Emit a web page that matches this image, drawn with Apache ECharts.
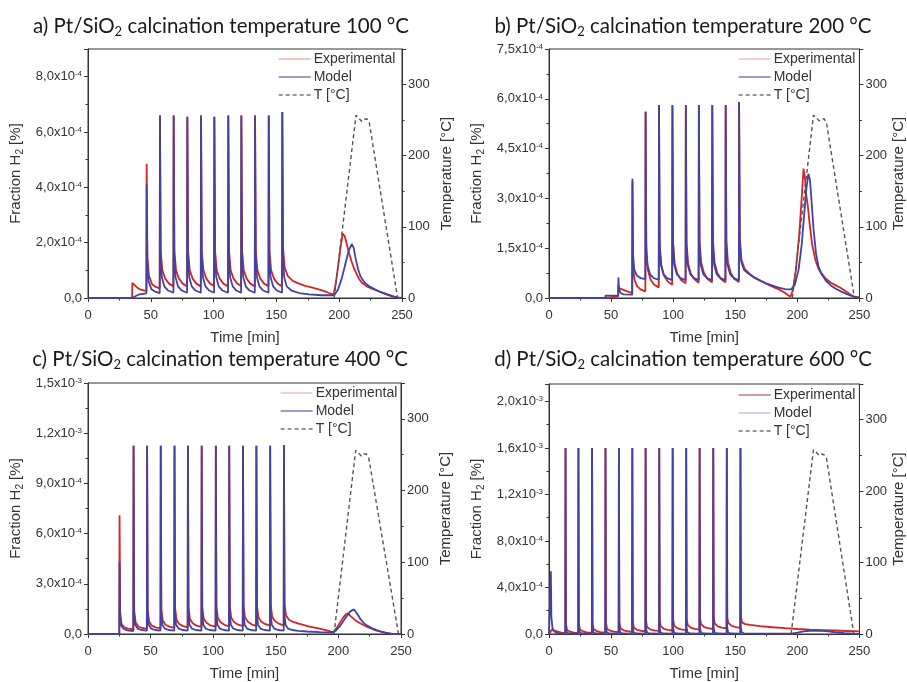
<!DOCTYPE html>
<html><head><meta charset="utf-8">
<script src="https://cdn.jsdelivr.net/npm/echarts@6/dist/echarts.min.js"></script>
<style>html,body{margin:0;padding:0;background:#fff}#c{width:907px;height:682px}</style>
</head><body><div id="c"></div>
<script>
// ---------- DATA (H2 fraction values in units of 1e-4 %, time in min, T in °C) ----------
const panelLabels = ['a', 'b', 'c', 'd'];
const calcTemps = ['100', '200', '400', '600'];
const fracMax = [9e-4, 7.5e-4, 1.5e-3, 2.15e-3];
const fracInterval = [2e-4, 1.5e-4, 3e-4, 4e-4];
const tempMax = 350;
const tempInterval = 100;
const timeMax = 250;
const timeInterval = 50;

const expA = [[0,0],[35.1,0],[35.3,0.55],[36.5,0.48],[39,0.38],[42,0.3],[46.5,0.25],
[46.7,4.85],[47.3,1.5],[48.5,0.8],[51,0.5],[54,0.4],[57.1,0.35],
[57.3,6.6],[57.9,1.7],[59.2,1.0],[61.5,0.7],[64.5,0.52],[68.0,0.42],
[68.2,6.6],[68.8,1.7],[70.1,1.0],[72.4,0.7],[75.4,0.52],[78.9,0.42],
[79.1,6.55],[79.7,1.7],[81.0,1.0],[83.3,0.7],[86.3,0.52],[89.8,0.42],
[90.0,6.6],[90.6,1.7],[91.9,1.0],[94.2,0.7],[97.2,0.52],[100.4,0.43],
[100.6,6.55],[101.2,1.7],[102.5,1.0],[104.8,0.7],[107.8,0.52],[111.5,0.42],
[111.7,6.6],[112.3,1.7],[113.6,1.0],[115.9,0.7],[118.9,0.52],[121.9,0.43],
[122.1,6.6],[122.7,1.7],[124.0,1.0],[126.3,0.7],[129.3,0.52],[132.8,0.42],
[133.0,6.6],[133.6,1.7],[134.9,1.0],[137.2,0.7],[140.2,0.52],[143.7,0.43],
[143.9,6.6],[144.5,1.7],[145.8,1.0],[148.1,0.7],[151.1,0.52],[154.5,0.43],
[154.7,6.72],[155.3,1.8],[156.6,1.1],[159,0.8],[163,0.62],[168,0.52],[173,0.44],[178,0.38],[183,0.32],[188,0.25],[192,0.18],[195.5,0.12],
[197,0.45],[199,1.1],[201,1.8],[202.8,2.33],[204.5,2.22],[206,1.95],[208,1.6],[210,1.3],[212,1.05],[214,0.85],[216,0.68],[218,0.55],[222,0.42],[226,0.34],[230,0.27],[234,0.2],[238,0.14],[242,0.08],[246,0.02],[250,0]];
const modelA = [[0,0],[35.1,0],[36,0.05],[40,0.12],[46.5,0.17],
[46.7,4.1],[47.2,1.3],[48.2,0.6],[50.5,0.32],[54,0.22],[57.1,0.18],
[57.3,6.6],[57.8,1.5],[58.8,0.75],[60.8,0.42],[63.8,0.27],[68.0,0.19],
[68.2,6.6],[68.7,1.5],[69.7,0.75],[71.7,0.42],[74.7,0.27],[78.9,0.19],
[79.1,6.55],[79.6,1.5],[80.6,0.75],[82.6,0.42],[85.6,0.27],[89.8,0.19],
[90.0,6.6],[90.5,1.5],[91.5,0.75],[93.5,0.42],[96.5,0.27],[100.4,0.19],
[100.6,6.55],[101.1,1.5],[102.1,0.75],[104.1,0.42],[107.1,0.27],[111.5,0.19],
[111.7,6.6],[112.2,1.5],[113.2,0.75],[115.2,0.42],[118.2,0.27],[121.9,0.19],
[122.1,6.6],[122.6,1.5],[123.6,0.75],[125.6,0.42],[128.6,0.27],[132.8,0.19],
[133.0,6.6],[133.5,1.5],[134.5,0.75],[136.5,0.42],[139.5,0.27],[143.7,0.19],
[143.9,6.6],[144.4,1.5],[145.4,0.75],[147.4,0.42],[150.4,0.27],[154.5,0.19],
[154.7,6.72],[155.2,1.5],[156.2,0.75],[158.2,0.42],[162,0.27],[168,0.18],[176,0.13],[186,0.1],[196,0.1],[199,0.3],[202,0.7],[205,1.25],[207.5,1.7],[209.9,1.95],[211.5,1.82],[213,1.45],[215,1.05],[217,0.78],[220,0.57],[224,0.42],[228,0.32],[233,0.21],[238,0.12],[243,0.05],[247,0.01],[250,0]];
const tempA = [[196,0],[213.4,257],[216,252],[218,248],[220,251],[222,252],[224,246],[246.5,0]];

const expB = [[0,0],[45.4,0],[45.6,0.05],[55.7,0.05],[55.9,0.4],[56.5,0.3],[59,0.26],[63,0.2],[67.0,0.15],
[67.2,3.5],[67.7,1.0],[68.8,0.55],[71,0.35],[74,0.25],[77.6,0.2],
[77.8,5.6],[78.4,1.4],[79.6,0.85],[81.8,0.55],[84.8,0.4],[88.4,0.32],
[88.6,5.8],[89.2,1.6],[90.4,1.0],[92.6,0.68],[95.6,0.5],[99.2,0.4],
[99.4,5.8],[100.0,1.65],[101.2,1.05],[103.4,0.72],[106.4,0.54],[110.0,0.44],
[110.2,5.8],[110.8,1.65],[112.0,1.05],[114.2,0.74],[117.2,0.56],[120.5,0.46],
[120.7,5.8],[121.3,1.7],[122.5,1.08],[124.7,0.76],[127.7,0.57],[131.3,0.47],
[131.5,5.8],[132.1,1.7],[133.3,1.08],[135.5,0.76],[138.5,0.57],[142.1,0.47],
[142.3,5.8],[142.9,1.7],[144.1,1.08],[146.3,0.76],[149.3,0.57],[152.9,0.48],
[153.1,5.9],[153.7,1.8],[155,1.15],[157.5,0.88],[161,0.75],[165,0.63],[170,0.53],[175,0.43],[180,0.34],[185,0.26],[189,0.18],[192,0.1],[194.5,0.04],
[196.5,0.25],[199,0.9],[201.5,1.9],[203.5,3.0],[205,3.9],[206.2,3.6],[207.2,3.1],[208.5,2.75],[210,2.2],[212,1.6],[214.5,1.15],[217,0.88],[219.5,0.74],[223,0.58],[227,0.46],[231,0.38],[235,0.3],[239,0.2],[243,0.1],[246,0.04],[250,0.02]];
const modelB = [[0,0],[45.4,0],[45.6,0.07],[55.7,0.07],[55.9,0.62],[56.3,0.3],[57.5,0.15],[60,0.11],[67.0,0.1],
[67.2,3.59],[67.7,1.3],[68.7,0.85],[70.7,0.68],[73.7,0.6],[77.6,0.57],
[77.8,5.62],[78.3,1.6],[79.3,1.0],[81.3,0.72],[84.3,0.6],[88.4,0.55],
[88.6,5.81],[89.1,1.6],[90.1,1.0],[92.1,0.72],[95.1,0.6],[99.2,0.54],
[99.4,5.81],[99.9,1.6],[100.9,1.0],[102.9,0.72],[105.9,0.6],[110.0,0.54],
[110.2,5.81],[110.7,1.6],[111.7,1.0],[113.7,0.72],[116.7,0.6],[120.5,0.54],
[120.7,5.81],[121.2,1.6],[122.2,1.0],[124.2,0.72],[127.2,0.6],[131.3,0.54],
[131.5,5.81],[132.0,1.6],[133.0,1.0],[135.0,0.72],[138.0,0.6],[142.1,0.54],
[142.3,5.81],[142.8,1.6],[143.8,1.0],[145.8,0.72],[148.8,0.6],[152.9,0.54],
[153.1,5.9],[153.6,1.7],[154.8,1.1],[157,0.85],[160,0.75],[165,0.62],[170,0.52],[175,0.44],[180,0.37],[185,0.31],[190,0.27],[195,0.26],
[198,0.4],[201,0.85],[203.5,1.6],[205.5,2.5],[207.3,3.3],[208.9,3.74],[210.2,3.55],[211.5,2.9],[213,2.1],[215,1.35],[217,0.95],[219.5,0.72],[223,0.52],[227,0.38],[231,0.28],[235,0.2],[239,0.13],[243,0.07],[246,0.03],[250,0]];
const tempB = [[196,0],[213,257],[215.5,253],[217.5,249],[219.5,251],[221.5,252],[223.5,246],[246,0]];

const expC = [[0,0],[25.0,0],[25.2,7.1],[25.7,1.3],[26.8,0.6],[29,0.4],[32,0.32],[36.2,0.28],
[36.4,11.25],[36.9,1.4],[38.0,0.7],[40.2,0.45],[43.2,0.36],[47.0,0.3],
[47.2,11.25],[47.7,1.45],[48.8,0.75],[51.0,0.5],[54.0,0.4],[57.9,0.34],
[58.1,11.25],[58.6,1.5],[59.7,0.8],[61.9,0.55],[64.9,0.44],[68.9,0.37],
[69.1,11.25],[69.6,1.55],[70.7,0.85],[72.9,0.6],[75.9,0.47],[79.6,0.4],
[79.8,11.25],[80.3,1.6],[81.4,0.9],[83.6,0.64],[86.6,0.5],[90.6,0.42],
[90.8,11.25],[91.3,1.6],[92.4,0.92],[94.6,0.67],[97.6,0.52],[101.9,0.44],
[102.1,11.25],[102.6,1.65],[103.7,0.95],[105.9,0.7],[108.9,0.55],[112.6,0.46],
[112.8,11.25],[113.3,1.65],[114.4,0.97],[116.6,0.72],[119.6,0.57],[123.6,0.47],
[123.8,11.25],[124.3,1.7],[125.4,1.0],[127.6,0.74],[130.6,0.58],[134.3,0.48],
[134.5,11.25],[135.0,1.7],[136.1,1.0],[138.3,0.75],[141.3,0.6],[145.3,0.5],
[145.5,11.25],[146.0,1.75],[147.1,1.02],[149.3,0.77],[152.3,0.62],[156.3,0.52],
[156.5,11.3],[157.0,1.8],[158.2,1.1],[160.5,0.85],[164,0.72],[168,0.62],[172,0.54],[176,0.46],[180,0.4],[185,0.32],[190,0.23],[194,0.14],[196,0.12],
[198.5,0.35],[201,0.65],[203.5,0.95],[206,1.18],[207.8,1.24],[209.5,1.08],[211,0.98],[213,0.86],[215.5,0.72],[218.5,0.6],[222,0.46],[226,0.34],[230,0.22],[234,0.14],[238,0.07],[242,0.02],[250,0]];
const modelC = [[0,0],[25.0,0],[25.2,4.3],[25.6,1.1],[26.5,0.5],[28.5,0.3],[31.5,0.22],[36.2,0.18],
[36.4,11.25],[36.8,1.2],[37.7,0.55],[39.7,0.32],[42.7,0.24],[47.0,0.2],
[47.2,11.25],[47.6,1.2],[48.5,0.55],[50.5,0.32],[53.5,0.24],[57.9,0.2],
[58.1,11.25],[58.5,1.2],[59.4,0.55],[61.4,0.32],[64.4,0.24],[68.9,0.2],
[69.1,11.25],[69.5,1.2],[70.4,0.55],[72.4,0.32],[75.4,0.24],[79.6,0.2],
[79.8,11.25],[80.2,1.2],[81.1,0.55],[83.1,0.32],[86.1,0.24],[90.6,0.2],
[90.8,11.25],[91.2,1.2],[92.1,0.55],[94.1,0.32],[97.1,0.24],[101.9,0.2],
[102.1,11.25],[102.5,1.2],[103.4,0.55],[105.4,0.32],[108.4,0.24],[112.6,0.2],
[112.8,11.25],[113.2,1.2],[114.1,0.55],[116.1,0.32],[119.1,0.24],[123.6,0.2],
[123.8,11.25],[124.2,1.2],[125.1,0.55],[127.1,0.32],[130.1,0.24],[134.3,0.2],
[134.5,11.25],[134.9,1.2],[135.8,0.55],[137.8,0.32],[140.8,0.24],[145.3,0.2],
[145.5,11.25],[145.9,1.2],[146.8,0.55],[148.8,0.32],[151.8,0.24],[156.3,0.2],
[156.5,11.3],[156.9,1.2],[157.8,0.55],[159.8,0.32],[163,0.24],[168,0.19],[175,0.15],[185,0.11],[195,0.08],
[198,0.2],[201,0.45],[204,0.78],[207,1.1],[209.5,1.35],[212.5,1.47],[214,1.38],[215.5,1.15],[217.5,0.9],[220,0.68],[223,0.5],[227,0.34],[231,0.22],[235,0.12],[239,0.05],[243,0.01],[250,0]];
const tempC = [[196.5,0],[213.8,256],[216.3,252],[218.3,248],[220.3,251],[222.3,251],[224.3,245],[248,0]];

const expD = [[0,0],[1.3,0.05],[2,0.35],[4,0.3],[7,0.2],[10,0.12],[13.1,0.08],
[13.3,16.0],[13.7,0.9],[14.5,0.35],[17.0,0.2],[20.0,0.12],[23.5,0.08],
[23.7,16.0],[24.1,0.9],[24.9,0.38],[27.4,0.22],[30.4,0.14],[34.5,0.1],
[34.7,16.0],[35.1,0.95],[35.9,0.42],[38.4,0.25],[41.4,0.17],[45.3,0.12],
[45.5,16.0],[45.9,1.0],[46.7,0.46],[49.2,0.28],[52.2,0.2],[56.1,0.15],
[56.3,16.0],[56.7,1.05],[57.5,0.5],[60.0,0.32],[63.0,0.24],[66.9,0.18],
[67.1,16.0],[67.5,1.1],[68.3,0.55],[70.8,0.36],[73.8,0.28],[77.6,0.22],
[77.8,16.0],[78.2,1.15],[79.0,0.6],[81.5,0.4],[84.5,0.32],[88.6,0.26],
[88.8,16.0],[89.2,1.2],[90.0,0.66],[92.5,0.45],[95.5,0.36],[99.4,0.3],
[99.6,16.0],[100.0,1.25],[100.8,0.72],[103.3,0.5],[106.3,0.4],[110.3,0.34],
[110.5,16.0],[110.9,1.3],[111.7,0.78],[114.2,0.55],[117.2,0.45],[121.1,0.38],
[121.3,16.0],[121.7,1.35],[122.5,0.84],[125.0,0.6],[128.0,0.5],[132.1,0.43],
[132.3,16.0],[132.7,1.4],[133.5,0.9],[136.0,0.66],[139.0,0.55],[143.0,0.48],
[143.2,16.0],[143.6,1.45],[144.4,0.96],[146.9,0.72],[149.9,0.6],[154.0,0.53],
[154.2,16.0],[154.6,1.5],[155.4,1.0],[158,0.85],[162,0.78],[170,0.68],[180,0.58],[190,0.5],[200,0.43],[210,0.38],[220,0.34],[230,0.3],[240,0.26],[250,0.22]];
const modelD = [[0,0],[0.9,0],[1.5,5.4],[1.9,1.5],[2.8,0.5],[4.5,0.2],[7.5,0.06],[13.1,0.02],
[13.3,16.0],[13.6,0.6],[14.3,0.15],[16.0,0.05],[23.5,0.02],
[23.7,16.0],[24.0,0.6],[24.7,0.15],[26.4,0.05],[34.5,0.02],
[34.7,16.0],[35.0,0.6],[35.7,0.15],[37.4,0.05],[45.3,0.02],
[45.5,16.0],[45.8,0.6],[46.5,0.15],[48.2,0.05],[56.1,0.02],
[56.3,16.0],[56.6,0.6],[57.3,0.15],[59.0,0.05],[66.9,0.02],
[67.1,16.0],[67.4,0.6],[68.1,0.15],[69.8,0.05],[77.6,0.02],
[77.8,16.0],[78.1,0.6],[78.8,0.15],[80.5,0.05],[88.6,0.02],
[88.8,16.0],[89.1,0.6],[89.8,0.15],[91.5,0.05],[99.4,0.02],
[99.6,16.0],[99.9,0.6],[100.6,0.15],[102.3,0.05],[110.3,0.02],
[110.5,16.0],[110.8,0.6],[111.5,0.15],[113.2,0.05],[121.1,0.02],
[121.3,16.0],[121.6,0.6],[122.3,0.15],[124.0,0.05],[132.1,0.02],
[132.3,16.0],[132.6,0.6],[133.3,0.15],[135.0,0.05],[143.0,0.02],
[143.2,16.0],[143.5,0.6],[144.2,0.15],[145.9,0.05],[154.0,0.02],
[154.2,16.0],[154.5,0.6],[155.2,0.15],[157,0.06],[170,0.04],[195,0.04],[200,0.12],[205,0.22],[210,0.28],[215,0.3],[220,0.28],[225,0.22],[230,0.15],[238,0.07],[245,0.03],[250,0.01]];
const tempD = [[195,0],[213,258],[215.5,254],[217.5,250],[219.5,252],[221.5,251],[223.5,246],[245.5,0]];

const expSets = [expA, expB, expC, expD];
const modelSets = [modelA, modelB, modelC, modelD];
const tempSets = [tempA, tempB, tempC, tempD];

// ---------- LAYOUT / STYLE ----------
const grids = [
  {left: 88, top: 49, width: 314, height: 249},
  {left: 549, top: 49, width: 313, height: 249},
  {left: 88, top: 383, width: 313, height: 251},
  {left: 549, top: 384, width: 313, height: 250}
];
const titleCenters = [[221, 14], [683, 14], [220, 347], [683, 347]];
const legendPos = [[278, 52], [738, 52], [280, 386], [738, 388]];
const legendExpCol = ['#e58a8a', '#e8a0a0', '#e8a0a0', '#b03040'];
const legendModCol = ['#3d3d8f', '#3d3d8f', '#3d3d8f', '#a8a8dc'];
const rightNameGap = [37, 31, 37, 31];
const FONT = 'Liberation Sans, Arial, sans-serif';
const TFONT = 'Lato, Open Sans, sans-serif';
const RED = '#d42424', BLUE = '#4242a0', TCOL = '#555';
const axisCol = '#333';

function fracFmt(v) {
  if (Math.abs(v) < 1e-12) return '0,0';
  const e = Math.floor(Math.log10(v) + 1e-9);
  const m = v / Math.pow(10, e);
  return '{m|' + m.toFixed(1).replace('.', ',') + 'x10}{s|' + e + '}';
}
const labelRich = {
  m: {fontSize: 13, fontFamily: FONT, color: '#333'},
  s: {fontSize: 8, fontFamily: FONT, color: '#333', verticalAlign: 'top', lineHeight: 10, padding: [0, 0, 6, 0]}
};

const option = {
  animation: false,
  backgroundColor: '#fff',
  title: [], legend: [], grid: [], xAxis: [], yAxis: [], series: []
};

for (let p = 0; p < 4; p++) {
  option.grid.push(Object.assign({show: true, borderColor: axisCol, borderWidth: 1, backgroundColor: 'transparent'}, grids[p]));
  option.title.push({
    text: '{t|' + panelLabels[p] + ') Pt/SiO}{u|2}{t| calcination temperature ' + calcTemps[p] + ' °C}',
    left: titleCenters[p][0], top: titleCenters[p][1], textAlign: 'center', padding: 0,
    textStyle: {fontSize: 20.5, fontWeight: 'normal', fontFamily: TFONT, color: '#1a1a1a', rich: {
      t: {fontSize: 20.5, fontWeight: 'normal', fontFamily: TFONT, color: '#1a1a1a', lineHeight: 24},
      u: {fontSize: 13, fontWeight: 'normal', fontFamily: TFONT, color: '#1a1a1a', verticalAlign: 'bottom', lineHeight: 24}
    }}
  });
  option.legend.push({
    orient: 'vertical', left: legendPos[p][0], top: legendPos[p][1], padding: 0,
    itemWidth: 32, itemHeight: 14, itemGap: 4, selectedMode: false,
    itemStyle: {opacity: 0, borderWidth: 0},
    textStyle: {fontSize: 14, fontFamily: FONT, color: '#333', padding: [0, 0, 0, -2]},
    data: [
      {name: 'Experimental', itemStyle: {opacity: 0}, lineStyle: {color: legendExpCol[p], width: 1}},
      {name: 'Model', itemStyle: {opacity: 0}, lineStyle: {color: legendModCol[p], width: 1.2}},
      {name: 'T [°C]', itemStyle: {opacity: 0}, lineStyle: {color: '#777', width: 1.3, type: [4, 3]}}
    ]
  });
  option.xAxis.push({
    type: 'value', gridIndex: p, min: 0, max: timeMax, interval: timeInterval,
    axisLine: {show: true, onZero: false, lineStyle: {color: axisCol}},
    axisTick: {show: true, length: 4, lineStyle: {color: axisCol}},
    minorTick: {show: true, splitNumber: 2, length: 2.5, lineStyle: {color: axisCol}},
    splitLine: {show: false},
    axisLabel: {fontSize: 13, fontFamily: FONT, color: '#333', margin: 11},
    name: 'Time [min]', nameLocation: 'middle', nameGap: 32,
    nameTextStyle: {fontSize: 15, fontFamily: FONT, color: '#333'}
  });
  option.yAxis.push({
    type: 'value', gridIndex: p, position: 'left', min: 0, max: fracMax[p], interval: fracInterval[p],
    axisLine: {show: true, onZero: false, lineStyle: {color: axisCol}},
    axisTick: {show: true, length: 4, lineStyle: {color: axisCol}},
    minorTick: {show: true, splitNumber: 2, length: 2.5, lineStyle: {color: axisCol}},
    splitLine: {show: false},
    axisLabel: {formatter: fracFmt, rich: labelRich, margin: 6, fontSize: 13, fontFamily: FONT, color: '#333',
      showMaxLabel: (p === 1 || p === 2)},
    name: '{n|Fraction H}{b|2}{n| [%]}', nameLocation: 'middle', nameGap: 63,
    nameTextStyle: {fontSize: 15, fontFamily: FONT, color: '#333', rich: {
      n: {fontSize: 15, fontFamily: FONT, color: '#333', lineHeight: 18},
      b: {fontSize: 10, fontFamily: FONT, color: '#333', verticalAlign: 'bottom', lineHeight: 18}
    }}
  });
  option.yAxis.push({
    type: 'value', gridIndex: p, position: 'right', min: 0, max: tempMax, interval: tempInterval,
    axisLine: {show: true, onZero: false, lineStyle: {color: axisCol}},
    axisTick: {show: true, length: 4, lineStyle: {color: axisCol}},
    minorTick: {show: true, splitNumber: 2, length: 2.5, lineStyle: {color: axisCol}},
    splitLine: {show: false},
    axisLabel: {fontSize: 13, fontFamily: FONT, color: '#333', margin: 6, showMaxLabel: false},
    name: 'Temperature [°C]', nameLocation: 'middle', nameGap: rightNameGap[p],
    nameTextStyle: {fontSize: 15, fontFamily: FONT, color: '#333'}
  });
  const scale = arr => arr.map(d => [d[0], d[1] * 1e-4]);
  option.series.push({
    type: 'line', name: 'Experimental', xAxisIndex: p, yAxisIndex: 2 * p,
    data: scale(expSets[p]), symbol: 'none', showSymbol: false, z: 2,
    lineStyle: {color: RED, width: 1.8}, itemStyle: {color: RED}
  });
  option.series.push({
    type: 'line', name: 'Model', xAxisIndex: p, yAxisIndex: 2 * p,
    data: scale(modelSets[p]), symbol: 'none', showSymbol: false, z: 3,
    lineStyle: {color: BLUE, width: 1.8}, itemStyle: {color: BLUE}
  });
  option.series.push({
    type: 'line', name: 'T [°C]', xAxisIndex: p, yAxisIndex: 2 * p + 1,
    data: tempSets[p], symbol: 'none', showSymbol: false, z: 4,
    lineStyle: {color: TCOL, width: 1.4, type: [4, 3]}, itemStyle: {color: TCOL}
  });
}

const chart = echarts.init(document.getElementById('c'), null, {renderer: 'canvas'});
chart.setOption(option);
</script>
</body></html>
